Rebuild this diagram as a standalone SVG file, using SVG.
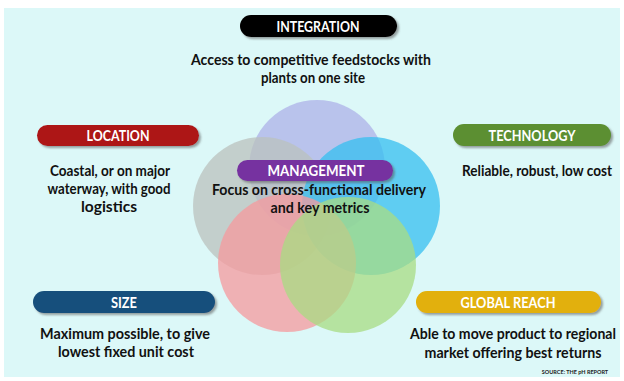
<svg xmlns="http://www.w3.org/2000/svg" width="624" height="381" viewBox="0 0 624 381">
<defs>
<filter id="sh" x="-10%" y="-30%" width="125%" height="180%">
<feDropShadow dx="2" dy="2" stdDeviation="1.2" flood-color="#555" flood-opacity="0.55"/>
</filter>
<style>
.pt{font-family:Lato,"Liberation Sans",sans-serif;font-weight:bold;font-size:15px;fill:#ffffff;text-anchor:middle}
.bt{font-family:Lato,"Liberation Sans",sans-serif;font-weight:bold;font-size:15.5px;fill:#111111;text-anchor:middle}
.bs{font-family:Lato,"Liberation Sans",sans-serif;font-weight:bold;font-size:13.5px;fill:#111111;text-anchor:middle}
.src{font-family:Lato,"Liberation Sans",sans-serif;font-weight:bold;font-size:5.5px;fill:#222;text-anchor:middle}
.c{fill-opacity:0.75}
</style>
</defs>
<rect x="0" y="0" width="624" height="381" fill="#ffffff"/>
<rect x="4" y="8" width="616" height="369" fill="#dcf8f8"/>

<g id="circles">
<circle cx="317" cy="168" r="68" fill="#adb1e8" class="c"/>
<circle cx="262" cy="206" r="69" fill="#bbc1bd" class="c"/>
<circle cx="371" cy="206" r="69" fill="#35bff0" class="c"/>
<circle cx="287" cy="263" r="69" fill="#f5999d" class="c"/>
<circle cx="348" cy="265" r="68" fill="#a8dc83" class="c"/>
</g>

<g id="connectors"></g>

<g id="integration">
<rect x="240" y="15" width="157" height="22" rx="11" fill="#000000" filter="url(#sh)"/>
<text class="pt" x="318" y="31.5" textLength="83" lengthAdjust="spacingAndGlyphs">INTEGRATION</text>
<text class="bt" x="311" y="65" textLength="240" lengthAdjust="spacingAndGlyphs">Access to competitive feedstocks with</text>
<text class="bt" x="313" y="83" textLength="104" lengthAdjust="spacingAndGlyphs">plants on one site</text>
</g>

<g id="location">
<rect x="37" y="125" width="162" height="21" rx="10.5" fill="#ad1418" filter="url(#sh)"/>
<text class="pt" x="118" y="141" textLength="63" lengthAdjust="spacingAndGlyphs">LOCATION</text>
<text class="bt" x="110" y="176" textLength="120" lengthAdjust="spacingAndGlyphs">Coastal, or on major</text>
<text class="bt" x="109" y="194" textLength="123" lengthAdjust="spacingAndGlyphs">waterway, with good</text>
<text class="bt" x="109" y="212" textLength="56" lengthAdjust="spacingAndGlyphs">logistics</text>
</g>

<g id="technology">
<rect x="453" y="124" width="158" height="22" rx="11" fill="#5b8f31" filter="url(#sh)"/>
<text class="pt" x="532" y="140.5" textLength="87" lengthAdjust="spacingAndGlyphs">TECHNOLOGY</text>
<text class="bs" transform="translate(537,176) scale(1,1.14)" x="0" y="0" textLength="150" lengthAdjust="spacingAndGlyphs">Reliable, robust, low cost</text>
</g>

<g id="management">
<rect x="237" y="160" width="156" height="21" rx="10.5" fill="#7630a0" filter="url(#sh)"/>
<text class="pt" x="316" y="176" textLength="97" lengthAdjust="spacingAndGlyphs">MANAGEMENT</text>
<text class="bt" x="319" y="195" textLength="214" lengthAdjust="spacingAndGlyphs">Focus on cross-functional delivery</text>
<text class="bt" x="320" y="213" textLength="99" lengthAdjust="spacingAndGlyphs">and key metrics</text>
</g>

<g id="size">
<rect x="33" y="291" width="182" height="22" rx="11" fill="#16507c" filter="url(#sh)"/>
<text class="pt" x="124" y="307.5" textLength="26" lengthAdjust="spacingAndGlyphs">SIZE</text>
<text class="bt" x="125" y="339" textLength="170" lengthAdjust="spacingAndGlyphs">Maximum possible, to give</text>
<text class="bt" x="126" y="357" textLength="136" lengthAdjust="spacingAndGlyphs">lowest fixed unit cost</text>
</g>

<g id="global-reach">
<rect x="416" y="291" width="185" height="22" rx="11" fill="#e2b007" filter="url(#sh)"/>
<text class="pt" x="508" y="307.5" textLength="95" lengthAdjust="spacingAndGlyphs">GLOBAL REACH</text>
<text class="bs" transform="translate(513,339) scale(1,1.14)" x="0" y="0" textLength="206" lengthAdjust="spacingAndGlyphs">Able to move product to regional</text>
<text class="bt" x="513" y="358" textLength="177" lengthAdjust="spacingAndGlyphs">market offering best returns</text>
</g>

<text class="src" x="575" y="374">SOURCE:  THE pH REPORT</text>
</svg>
